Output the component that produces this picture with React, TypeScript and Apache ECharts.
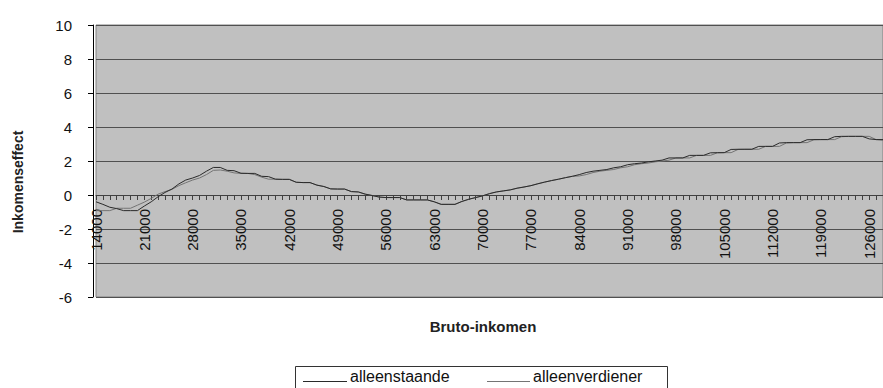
import React, { useEffect, useRef } from "react";
import * as echarts from "echarts";

const categories = [
  "14000", "15000", "16000", "17000", "18000", "19000", "20000", "21000", "22000", "23000",
  "24000", "25000", "26000", "27000", "28000", "29000", "30000", "31000", "32000", "33000",
  "34000", "35000", "36000", "37000", "38000", "39000", "40000", "41000", "42000", "43000",
  "44000", "45000", "46000", "47000", "48000", "49000", "50000", "51000", "52000", "53000",
  "54000", "55000", "56000", "57000", "58000", "59000", "60000", "61000", "62000", "63000",
  "64000", "65000", "66000", "67000", "68000", "69000", "70000", "71000", "72000", "73000",
  "74000", "75000", "76000", "77000", "78000", "79000", "80000", "81000", "82000", "83000",
  "84000", "85000", "86000", "87000", "88000", "89000", "90000", "91000", "92000", "93000",
  "94000", "95000", "96000", "97000", "98000", "99000", "100000", "101000", "102000", "103000",
  "104000", "105000", "106000", "107000", "108000", "109000", "110000", "111000", "112000", "113000",
  "114000", "115000", "116000", "117000", "118000", "119000", "120000", "121000", "122000", "123000",
  "124000", "125000", "126000", "127000", "128000",
];

const alleenstaande = [
  -0.4, -0.55, -0.72, -0.8, -0.92, -0.92, -0.92, -0.65, -0.4, -0.1,
  0.15, 0.35, 0.65, 0.88, 1.0, 1.15, 1.4, 1.62, 1.62, 1.45,
  1.43, 1.28, 1.27, 1.27, 1.1, 1.08, 0.93, 0.92, 0.92, 0.75,
  0.73, 0.73, 0.58, 0.5, 0.36, 0.35, 0.35, 0.2, 0.18, 0.05,
  -0.03, -0.12, -0.15, -0.15, -0.15, -0.29, -0.29, -0.29, -0.29, -0.4,
  -0.55, -0.55, -0.55, -0.38, -0.25, -0.15, -0.05, 0.08, 0.18, 0.24,
  0.3, 0.4, 0.47, 0.55, 0.66, 0.76, 0.85, 0.93, 1.02, 1.1,
  1.2, 1.32, 1.4, 1.45, 1.5, 1.6, 1.66, 1.78, 1.84, 1.88,
  1.95, 2.0, 2.05, 2.18, 2.18, 2.18, 2.33, 2.33, 2.33, 2.48,
  2.49, 2.49, 2.68, 2.69, 2.69, 2.69, 2.86, 2.86, 2.86, 3.06,
  3.08, 3.08, 3.08, 3.25, 3.26, 3.26, 3.26, 3.43, 3.45, 3.45,
  3.45, 3.45, 3.3, 3.26, 3.26,
];

const alleenverdiener = [
  -0.92, -0.92, -0.92, -0.78, -0.78, -0.78, -0.6, -0.42, -0.2, 0.05,
  0.2, 0.33, 0.55, 0.72, 0.88, 1.0, 1.2, 1.45, 1.47, 1.4,
  1.3, 1.27, 1.27, 1.2, 1.05, 0.93, 0.93, 0.92, 0.92, 0.75,
  0.73, 0.73, 0.58, 0.5, 0.36, 0.35, 0.35, 0.2, 0.18, 0.05,
  -0.03, -0.12, -0.15, -0.15, -0.15, -0.29, -0.29, -0.29, -0.29, -0.4,
  -0.55, -0.55, -0.55, -0.38, -0.25, -0.15, -0.05, 0.08, 0.18, 0.24,
  0.3, 0.4, 0.47, 0.55, 0.66, 0.76, 0.85, 0.93, 1.02, 1.1,
  1.12, 1.2, 1.32, 1.4, 1.45, 1.5, 1.6, 1.66, 1.78, 1.84,
  1.88, 1.95, 2.0, 2.05, 2.18, 2.18, 2.18, 2.33, 2.33, 2.33,
  2.48, 2.49, 2.49, 2.68, 2.69, 2.69, 2.69, 2.86, 2.86, 2.86,
  3.06, 3.08, 3.08, 3.08, 3.25, 3.26, 3.26, 3.26, 3.43, 3.45,
  3.45, 3.45, 3.45, 3.26, 3.22,
];

const yMin = -6;
const yMax = 10;
const yInterval = 2;

const seriesNames = ["alleenstaande", "alleenverdiener"];
const seriesColors = ["#2a2a2a", "#747474"];

const FONT = "'Liberation Sans', Arial, sans-serif";

const GRID_TOP = 25;
const GRID_HEIGHT = 272;
// distance from the bottom of the plot up to the value 0 line
const ZERO_OFFSET = -(GRID_HEIGHT * (0 - yMin)) / (yMax - yMin);

export default function App() {
  const ref = useRef<HTMLDivElement>(null);

  useEffect(() => {
    document.body.style.margin = "0";
    const chart = echarts.init(ref.current!, null, { renderer: "svg" });
    chart.setOption({
      animation: false,
      backgroundColor: "#ffffff",
      textStyle: { fontFamily: FONT },
      grid: {
        left: 96,
        top: GRID_TOP,
        width: 789,
        height: GRID_HEIGHT,
        show: true,
        backgroundColor: "#c0c0c0",
        borderColor: "#808080",
        borderWidth: 1,
      },
      xAxis: {
        type: "category",
        data: categories,
        boundaryGap: false,
        position: "bottom",
        offset: ZERO_OFFSET,
        axisLine: { onZero: false, lineStyle: { color: "#404040", width: 1 } },
        axisTick: { show: true, interval: 0, length: 5, lineStyle: { color: "#404040" } },
        axisLabel: {
          interval: 6,
          rotate: 90,
          fontSize: 15,
          color: "#111",
          fontFamily: FONT,
          margin: 14,
        },
        splitLine: { show: false },
      },
      yAxis: {
        type: "value",
        min: yMin,
        max: yMax,
        interval: yInterval,
        offset: 3,
        axisLine: { show: true, onZero: false, lineStyle: { color: "#000", width: 1 } },
        axisTick: { show: true, length: 5, lineStyle: { color: "#000" } },
        axisLabel: {
          fontSize: 15,
          color: "#111",
          fontFamily: FONT,
          margin: 21,
          padding: [0, 0, 6, 0],
        },
        splitLine: { show: true, lineStyle: { color: "#505050", width: 1 } },
      },
      series: [
        {
          name: seriesNames[1],
          type: "line",
          data: alleenverdiener,
          symbol: "none",
          lineStyle: { color: seriesColors[1], width: 1 },
          itemStyle: { color: seriesColors[1] },
          z: 2,
        },
        {
          name: seriesNames[0],
          type: "line",
          data: alleenstaande,
          symbol: "none",
          lineStyle: { color: seriesColors[0], width: 1 },
          itemStyle: { color: seriesColors[0] },
          z: 3,
        },
      ],
      graphic: [
        {
          type: "text",
          x: 18,
          y: 182,
          rotation: Math.PI / 2,
          style: {
            text: "Inkomenseffect",
            fontSize: 14,
            fontWeight: "bold",
            fontFamily: FONT,
            fill: "#222",
            align: "center",
            verticalAlign: "middle",
          },
        },
        {
          type: "text",
          x: 483,
          y: 326,
          style: {
            text: "Bruto-inkomen",
            fontSize: 15,
            fontWeight: "bold",
            fontFamily: FONT,
            fill: "#222",
            align: "center",
            verticalAlign: "middle",
          },
        },
        {
          type: "rect",
          shape: { x: 295.5, y: 366.5, width: 372, height: 40 },
          style: { fill: "#fff", stroke: "#333", lineWidth: 1 },
        },
        {
          type: "line",
          shape: { x1: 303, y1: 381.5, x2: 347, y2: 381.5 },
          style: { stroke: seriesColors[0], lineWidth: 1 },
        },
        {
          type: "text",
          x: 350,
          y: 376,
          style: {
            text: seriesNames[0],
            fontSize: 16,
            fontFamily: FONT,
            fill: "#111",
            align: "left",
            verticalAlign: "middle",
          },
        },
        {
          type: "line",
          shape: { x1: 487, y1: 381.5, x2: 530, y2: 381.5 },
          style: { stroke: seriesColors[1], lineWidth: 1 },
        },
        {
          type: "text",
          x: 533,
          y: 376,
          style: {
            text: seriesNames[1],
            fontSize: 16,
            fontFamily: FONT,
            fill: "#111",
            align: "left",
            verticalAlign: "middle",
          },
        },
      ],
    });
    return () => chart.dispose();
  }, []);

  return <div ref={ref} style={{ width: 883, height: 388 }} />;
}
